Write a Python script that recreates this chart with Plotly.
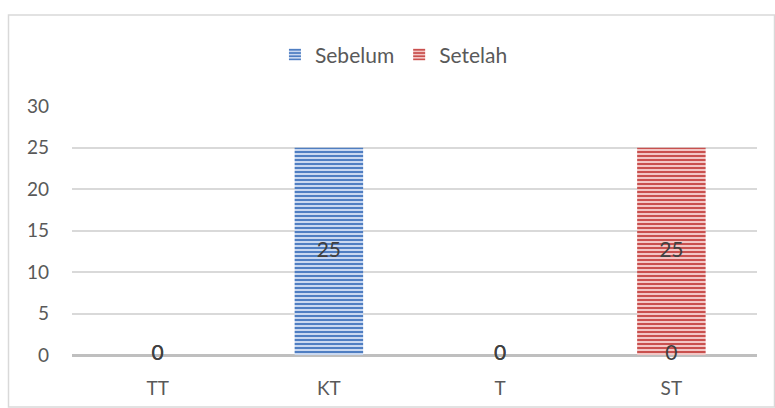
import plotly.graph_objects as go

categories = ["TT", "KT", "T", "ST"]
sebelum = [0, 25, 0, 0]
setelah = [0, None, 0, 25]
y_ticks = [0, 5, 10, 15, 20, 25, 30]

FONT = "Lato"
TXT = "#595959"

fig = go.Figure()

fig.add_trace(go.Bar(
    name="Sebelum", x=categories, y=sebelum, width=0.4,
    marker=dict(color="#4F7EC2", line=dict(width=0),
                pattern=dict(shape="-", fgcolor="#4F7EC2", bgcolor="#C9D8F0",
                             size=4, solidity=0.5, fillmode="replace")),
    hoverinfo="skip",
))
fig.add_trace(go.Bar(
    name="Setelah", x=categories, y=setelah, width=0.4,
    marker=dict(color="#C9504E", line=dict(width=0),
                pattern=dict(shape="-", fgcolor="#C9504E", bgcolor="#F2C6C5",
                             size=4, solidity=0.5, fillmode="replace")),
    hoverinfo="skip",
))

# value labels (centered on each bar, as in Excel "center" position)
for vals in (sebelum, setelah):
    xs = [c for c, v in zip(categories, vals) if v is not None]
    vs = [v for v in vals if v is not None]
    fig.add_trace(go.Scatter(
        x=xs, y=[v / 2 for v in vs], text=[str(v) for v in vs],
        mode="text", textposition="middle center", cliponaxis=False,
        textfont=dict(family=FONT, size=21, color="#404040"),
        showlegend=False, hoverinfo="skip",
    ))

fig.update_layout(
    width=775, height=408,
    margin=dict(l=72, r=18, t=106, b=53),
    paper_bgcolor="white", plot_bgcolor="white",
    barmode="overlay",
    font=dict(family=FONT, size=19, color=TXT),
    legend=dict(orientation="h", x=0.47, xanchor="center", y=1.205, yanchor="middle",
                font=dict(family=FONT, size=21, color=TXT), itemwidth=30,
                traceorder="normal"),
    xaxis=dict(showgrid=False, showline=False, ticks="", ticklabelstandoff=20,
               tickfont=dict(size=19), automargin=False),
    yaxis=dict(range=[0, 30.02], tickvals=y_ticks, showgrid=True, gridcolor="#D9D9D9",
               gridwidth=1.5, zeroline=True, zerolinecolor="#BFBFBF", zerolinewidth=3,
               showline=False, ticks="", ticklabelstandoff=22, tickfont=dict(size=19),
               automargin=False),
    shapes=[dict(type="rect", xref="paper", yref="paper",
                 x0=(8.5 - 72) / 685, x1=(774.5 - 72) / 685,
                 y0=(355 - 407) / 249, y1=1 + (106 - 15) / 249,
                 line=dict(color="#D9D9D9", width=1.5), layer="below")],
)

fig.write_html("out.html")
